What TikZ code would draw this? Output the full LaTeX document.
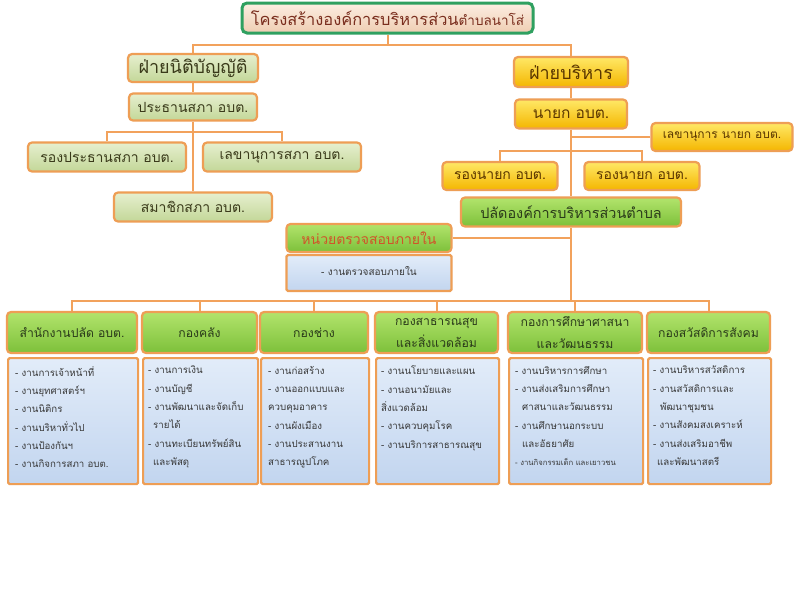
\documentclass[tikz,border=0pt]{standalone}
\usepackage{fontspec}
\newfontfamily\thaifont[Script=Thai]{Loma}
\definecolor{lineOr}{HTML}{F2A25C}
\definecolor{bordOr}{HTML}{EE9E55}
\definecolor{titleGr}{HTML}{2FA060}
\definecolor{titleTop}{HTML}{FCEEE2}
\definecolor{titleBot}{HTML}{EFCDB2}
\definecolor{titleTxt}{HTML}{7A2E1E}
\definecolor{oliveTop}{HTML}{E6EFCF}
\definecolor{oliveBot}{HTML}{C3D798}
\definecolor{oliveTxt}{HTML}{3A3A1A}
\definecolor{goldTop}{HTML}{FFE866}
\definecolor{goldBot}{HTML}{F4B600}
\definecolor{goldTxt}{HTML}{5A3600}
\definecolor{limeTop}{HTML}{B2E46C}
\definecolor{limeBot}{HTML}{7DC03A}
\definecolor{limeTxt}{HTML}{2A3A1A}
\definecolor{auditTxt}{HTML}{D0542A}
\definecolor{blueTop}{HTML}{E2ECF9}
\definecolor{blueBot}{HTML}{C2D5EF}
\definecolor{bodyTxt}{HTML}{383838}
\tikzset{
  conn/.style={draw=lineOr, line width=2pt},
  basebox/.style={draw=bordOr, line width=2.2pt, rounded corners=4pt, inner sep=0pt, align=center},
  titlebox/.style={draw=titleGr, line width=3pt, rounded corners=5pt, inner sep=0pt,
    top color=titleTop, bottom color=titleBot, text=titleTxt},
  olivebox/.style={basebox, top color=oliveTop, bottom color=oliveBot, text=oliveTxt,
    font=\thaifont\fontsize{14}{16}\selectfont},
  goldbox/.style={basebox, top color=goldTop, bottom color=goldBot, text=goldTxt,
    font=\thaifont\fontsize{14}{16}\selectfont},
  limebox/.style={basebox, top color=limeTop, bottom color=limeBot, text=limeTxt,
    font=\thaifont\fontsize{12.2}{22}\selectfont},
  bodybox/.style={draw=bordOr, line width=2.2pt, rounded corners=1.5pt, inner sep=0pt,
    top color=blueTop, bottom color=blueBot, anchor=north west},
  bodytext/.style={anchor=north west, inner sep=0pt, align=left, text=bodyTxt,
    font=\thaifont\fontsize{9.7}{18.3}\selectfont},
}
\begin{document}
\begin{tikzpicture}[x=1pt,y=-1pt]
\useasboundingbox[fill=white] (0,0) rectangle (800,600);

% title
\node[titlebox, minimum width=291pt, minimum height=30pt] (title) at (387.5,18)
  {{\thaifont\fontsize{16.4}{16}\selectfont โครงสร้างองค์การบริหารส่วน}{\thaifont\fontsize{13.5}{13}\selectfont ตำบลนาโส่}};

% legislative side
\node[olivebox, minimum width=130pt, minimum height=28pt, font=\thaifont\fontsize{18}{18}\selectfont] (leg) at (193,68) {ฝ่ายนิติบัญญัติ};
\node[olivebox, minimum width=128pt, minimum height=27pt] (pres) at (193,107) {ประธานสภา อบต.};
\node[olivebox, minimum width=158pt, minimum height=29pt] (vice) at (107,157) {รองประธานสภา อบต.};
\node[olivebox, minimum width=158pt, minimum height=29pt] (sec) at (282,157) {เลขานุการสภา อบต.};
\node[olivebox, minimum width=158pt, minimum height=29pt] (mem) at (193,207) {สมาชิกสภา อบต.};

% executive side
\node[goldbox, minimum width=114pt, minimum height=30pt, font=\thaifont\fontsize{18}{18}\selectfont] (exec) at (571,72) {ฝ่ายบริหาร};
\node[goldbox, minimum width=112pt, minimum height=29pt, font=\thaifont\fontsize{15.5}{16}\selectfont] (mayor) at (571,114) {นายก อบต.};
\node[goldbox, minimum width=141pt, minimum height=28pt, font=\thaifont\fontsize{12}{14}\selectfont] (mayorsec) at (722,137) {เลขานุการ นายก อบต.};
\node[goldbox, minimum width=115pt, minimum height=28pt] (vm1) at (500,176) {รองนายก อบต.};
\node[goldbox, minimum width=115pt, minimum height=28pt] (vm2) at (642,176) {รองนายก อบต.};
\node[limebox, minimum width=220pt, minimum height=29pt, font=\thaifont\fontsize{14.4}{16}\selectfont] (clerk) at (571,212) {ปลัดองค์การบริหารส่วนตำบล};

% internal audit
\node[limebox, minimum width=165pt, minimum height=28pt, text=auditTxt, font=\thaifont\fontsize{14}{14}\selectfont] (audit) at (369,238) {หน่วยตรวจสอบภายใน};
\node[basebox, rounded corners=1.5pt, top color=blueTop, bottom color=blueBot, text=bodyTxt,
  minimum width=165pt, minimum height=36pt, font=\thaifont\fontsize{10}{12}\selectfont] (auditbody) at (369,273)
  {\raisebox{4pt}{- งานตรวจสอบภายใน}};

% division headers
\node[limebox, minimum width=130pt, minimum height=41pt] (h1) at (72,332.5) {สำนักงานปลัด อบต.};
\node[limebox, minimum width=115pt, minimum height=41pt] (h2) at (199.5,332.5) {กองคลัง};
\node[limebox, minimum width=108pt, minimum height=41pt] (h3) at (314,332.5) {กองช่าง};
\node[limebox, minimum width=123pt, minimum height=41pt] (h4) at (436.5,332.5) {กองสาธารณสุข\\และสิ่งแวดล้อม};
\node[limebox, minimum width=134pt, minimum height=41pt] (h5) at (575,332.5) {กองการศึกษาศาสนา\\และวัฒนธรรม};
\node[limebox, minimum width=123pt, minimum height=41pt] (h6) at (708.5,332.5) {กองสวัสดิการสังคม};

% division bodies
\node[bodybox, minimum width=130pt, minimum height=126pt] (b1) at (7,357) {};
\node[bodybox, minimum width=115pt, minimum height=126pt] (b2) at (142,357) {};
\node[bodybox, minimum width=108pt, minimum height=126pt] (b3) at (260,357) {};
\node[bodybox, minimum width=123pt, minimum height=126pt] (b4) at (375,357) {};
\node[bodybox, minimum width=134pt, minimum height=126pt] (b5) at (508,357) {};
\node[bodybox, minimum width=123pt, minimum height=126pt] (b6) at (647,357) {};

\node[bodytext] (t1) at (15,366) {- งานการเจ้าหน้าที่\\- งานยุทศาสตร์ฯ\\- งานนิติกร\\- งานบริหาทั่วไป\\- งานป้องกันฯ\\- งานกิจการสภา อบต.};
\node[bodytext] (t2) at (148,366) {- งานการเงิน\\- งานบัญชี\\- งานพัฒนาและจัดเก็บ\\\hspace*{5pt}รายได้\\- งานทะเบียนทรัพย์สิน\\\hspace*{5pt}และพัสดุ};
\node[bodytext] (t3) at (268,366) {- งานก่อสร้าง\\- งานออกแบบและ\\ควบคุมอาคาร\\- งานผังเมือง\\- งานประสานงาน\\สาธารณูปโภค};
\node[bodytext] (t4) at (381,366) {- งานนโยบายและแผน\\- งานอนามัยและ\\สิ่งแวดล้อม\\- งานควบคุมโรค\\- งานบริการสาธารณสุข};
\node[bodytext] (t5) at (515,366) {- งานบริหารการศึกษา\\- งานส่งเสริมการศึกษา\\\hspace*{7pt}ศาสนาและวัฒนธรรม\\- งานศึกษานอกระบบ\\\hspace*{7pt}และอัธยาศัย\\{\fontsize{7.7}{18.3}\selectfont - งานกิจกรรมเด็ก และเยาวชน}};
\node[bodytext] (t6) at (653,366) {- งานบริหารสวัสดิการ\\- งานสวัสดิการและ\\\hspace*{7pt}พัฒนาชุมชน\\- งานสังคมสงเคราะห์\\- งานส่งเสริมอาชีพ\\\hspace*{4pt}และพัฒนาสตรี};

% connectors
\path (title.south) ++(0,10) coordinate (tj);
\draw[conn] (leg.north) |- (tj) -| (exec.north);
\draw[conn] (title.south) -- (tj);
\draw[conn] (leg.south) -- (pres.north);
\draw[conn] (pres.south) -- (mem.north);
\path (pres.south) ++(0,10.5) coordinate (pj);
\draw[conn] (vice.north) |- (pj) -| (sec.north);
\draw[conn] (exec.south) -- (mayor.north);
\draw[conn] (mayor.south) -- (clerk.north);
\draw[conn] (mayorsec.west) -- (mayorsec.west -| mayor.south);
\path (mayor.south) ++(0,21) coordinate (vj);
\draw[conn] (vm1.north) |- (vj) -| (vm2.north);
\path (clerk.south) ++(0,73.5) coordinate (bj);
\draw[conn] (clerk.south) -- (bj);
\draw[conn] (audit.east) -- (audit.east -| clerk.south);
\draw[conn] (h1.north) |- (bj) -| (h6.north);
\draw[conn] (h2.north) -- (h2.north |- bj);
\draw[conn] (h3.north) -- (h3.north |- bj);
\draw[conn] (h4.north) -- (h4.north |- bj);
\draw[conn] (h5.north) -- (h5.north |- bj);
\end{tikzpicture}
\end{document}
